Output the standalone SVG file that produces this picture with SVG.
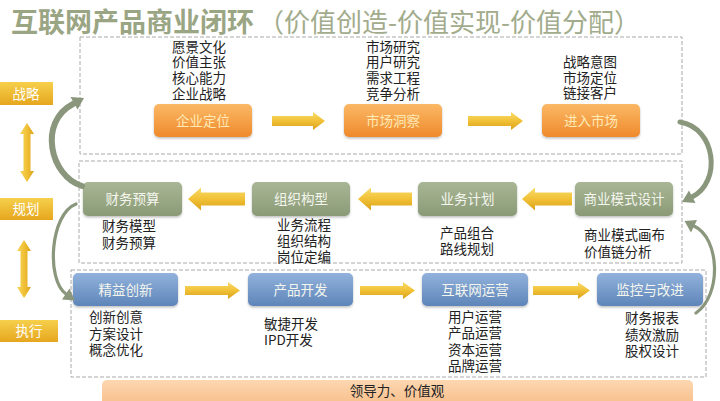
<svg xmlns="http://www.w3.org/2000/svg" width="720" height="401" viewBox="0 0 720 401">
<defs>
<linearGradient id="gOrange" x1="0" y1="0" x2="0" y2="1"><stop offset="0" stop-color="#fbb866"/><stop offset="1" stop-color="#ef8a2c"/></linearGradient>
<linearGradient id="gGreen" x1="0" y1="0" x2="0" y2="1"><stop offset="0" stop-color="#a9b695"/><stop offset="1" stop-color="#8a9a76"/></linearGradient>
<linearGradient id="gBlue" x1="0" y1="0" x2="0" y2="1"><stop offset="0" stop-color="#92b2dc"/><stop offset="1" stop-color="#5e85b9"/></linearGradient>
<linearGradient id="gGold" x1="0" y1="0" x2="0" y2="1"><stop offset="0" stop-color="#f6d04c"/><stop offset="1" stop-color="#e6a61e"/></linearGradient>
<linearGradient id="gArrow" x1="0" y1="0" x2="0" y2="1"><stop offset="0" stop-color="#f8dc6c"/><stop offset="0.5" stop-color="#f1c136"/><stop offset="1" stop-color="#d9a11a"/></linearGradient>
<linearGradient id="gArrowV" x1="0" y1="0" x2="1" y2="0"><stop offset="0" stop-color="#f5d45e"/><stop offset="0.5" stop-color="#f1c136"/><stop offset="1" stop-color="#d9a11a"/></linearGradient>
<linearGradient id="gBar" x1="0" y1="0" x2="0" y2="1"><stop offset="0" stop-color="#fcd7b2"/><stop offset="1" stop-color="#f8bd88"/></linearGradient>
<filter id="sh" x="-10%" y="-20%" width="120%" height="150%"><feDropShadow dx="0" dy="1.5" stdDeviation="1.2" flood-color="#000" flood-opacity="0.25"/></filter>
</defs>
<style>
.t{font-family:"Noto Sans CJK SC","Noto Sans",sans-serif}
.d{font-family:"Noto Sans CJK SC","Noto Sans",sans-serif;font-size:13.5px;fill:#222}
.bl{font-family:"Noto Sans CJK SC","Noto Sans",sans-serif;font-size:13.5px;text-anchor:middle}
.ob{fill:url(#gOrange);filter:url(#sh)}
.gb{fill:url(#gGreen);filter:url(#sh)}
.bb{fill:url(#gBlue);filter:url(#sh)}
.ot{fill:#fdeab6}
.wt{fill:#f4f6ee}
.lab{fill:url(#gGold)}
.labt{font-family:"Noto Sans CJK SC","Noto Sans",sans-serif;font-size:13.5px;fill:#fff;text-anchor:middle}
.dash{fill:none;stroke:#aaaaaa;stroke-width:1;stroke-dasharray:4 2}
.ya{fill:url(#gArrow)}
.yv{fill:url(#gArrowV)}
.cv{fill:none;stroke:#8a977c;stroke-linecap:round}
.ch{fill:#8a977c}
</style>
<rect width="720" height="401" fill="#ffffff"/>

<g id="title">
<text class="t" x="11" y="32" font-size="27" font-weight="bold" fill="#9aa584">互联网产品商业闭环</text>
<text class="t" x="258" y="32" font-size="26" fill="#a2ab8c">（价值创造-价值实现-价值分配）</text>
</g>

<g id="frames">
<rect class="dash" x="80" y="37" width="602" height="117"/>
<rect class="dash" x="79" y="161" width="603" height="102"/>
<rect class="dash" x="71" y="270" width="635" height="107"/>
</g>

<g id="label-strategy"><rect class="lab" x="0" y="82" width="53" height="23"/><text class="labt" x="26" y="98.5">战略</text></g>
<g id="label-plan"><rect class="lab" x="0" y="198" width="53" height="22"/><text class="labt" x="26" y="214">规划</text></g>
<g id="label-exec"><rect class="lab" x="0" y="320" width="58" height="22"/><text class="labt" x="29" y="336">执行</text></g>

<g id="node-qiye">
<text class="d" x="172" y="51.5"><tspan x="172">愿景文化</tspan><tspan x="172" dy="15.7">价值主张</tspan><tspan x="172" dy="15.7">核心能力</tspan><tspan x="172" dy="15.7">企业战略</tspan></text>
<rect class="ob" x="154" y="104" width="98" height="33" rx="5"/><text class="bl ot" x="203" y="125.5">企业定位</text>
</g>
<g id="node-shichang">
<text class="d" x="366" y="51.5"><tspan x="366">市场研究</tspan><tspan x="366" dy="15.7">用户研究</tspan><tspan x="366" dy="15.7">需求工程</tspan><tspan x="366" dy="15.7">竞争分析</tspan></text>
<rect class="ob" x="344" y="104" width="98" height="33" rx="5"/><text class="bl ot" x="393" y="125.5">市场洞察</text>
</g>
<g id="node-jinru">
<text class="d" x="563" y="67"><tspan x="563">战略意图</tspan><tspan x="563" dy="15.5">市场定位</tspan><tspan x="563" dy="15.5">链接客户</tspan></text>
<rect class="ob" x="542" y="104" width="98" height="33" rx="5"/><text class="bl ot" x="591" y="125.5">进入市场</text>
</g>

<g id="node-caiwu">
<rect class="gb" x="83" y="182" width="99" height="34" rx="5"/><text class="bl wt" x="132.5" y="204">财务预算</text>
<text class="d" x="102" y="231"><tspan x="102">财务模型</tspan><tspan x="102" dy="17">财务预算</tspan></text>
</g>
<g id="node-zuzhi">
<rect class="gb" x="252" y="182" width="98" height="34" rx="5"/><text class="bl wt" x="301" y="204">组织构型</text>
<text class="d" x="277" y="230"><tspan x="277">业务流程</tspan><tspan x="277" dy="16">组织结构</tspan><tspan x="277" dy="16">岗位定编</tspan></text>
</g>
<g id="node-yewu">
<rect class="gb" x="418" y="182" width="99" height="34" rx="5"/><text class="bl wt" x="467.5" y="204">业务计划</text>
<text class="d" x="440" y="238"><tspan x="440">产品组合</tspan><tspan x="440" dy="16">路线规划</tspan></text>
</g>
<g id="node-moshi">
<rect class="gb" x="575" y="182" width="98" height="34" rx="5"/><text class="bl wt" x="624" y="204">商业模式设计</text>
<text class="d" x="584" y="240"><tspan x="584">商业模式画布</tspan><tspan x="584" dy="17">价值链分析</tspan></text>
</g>

<g id="node-jingyi">
<rect class="bb" x="73" y="273" width="105" height="33" rx="5"/><text class="bl wt" x="125.5" y="294.5">精益创新</text>
<text class="d" x="89" y="322"><tspan x="89">创新创意</tspan><tspan x="89" dy="16.5">方案设计</tspan><tspan x="89" dy="16.5">概念优化</tspan></text>
</g>
<g id="node-kaifa">
<rect class="bb" x="248" y="273" width="105" height="33" rx="5"/><text class="bl wt" x="300.5" y="294.5">产品开发</text>
<text class="d" x="264" y="329"><tspan x="264">敏捷开发</tspan><tspan x="264" dy="16">IPD开发</tspan></text>
</g>
<g id="node-yunying">
<rect class="bb" x="422" y="273" width="106" height="33" rx="5"/><text class="bl wt" x="475" y="294.5">互联网运营</text>
<text class="d" x="448" y="322"><tspan x="448">用户运营</tspan><tspan x="448" dy="16.4">产品运营</tspan><tspan x="448" dy="16.4">资本运营</tspan><tspan x="448" dy="16.4">品牌运营</tspan></text>
</g>
<g id="node-jiankong">
<rect class="bb" x="597" y="273" width="106" height="33" rx="5"/><text class="bl wt" x="650" y="294.5">监控与改进</text>
<text class="d" x="625" y="323"><tspan x="625">财务报表</tspan><tspan x="625" dy="16.5">绩效激励</tspan><tspan x="625" dy="16.5">股权设计</tspan></text>
</g>

<g id="base-bar">
<rect x="102" y="380" width="591" height="26" rx="5" fill="url(#gBar)"/>
<text class="t" x="397" y="396" font-size="13.5" fill="#222" text-anchor="middle">领导力、价值观</text>
</g>

<g id="connectors">
<polygon class="ya" points="272,116 313,116 313,112 325,121 313,130 313,126 272,126"/>
<polygon class="ya" points="468,116 511,116 511,112 523,121 511,130 511,126 468,126"/>
<polygon class="ya" points="245,192.5 201,192.5 201,187.5 188,199 201,210.5 201,205.5 245,205.5"/>
<polygon class="ya" points="412,192.5 371,192.5 371,187.5 358,199 371,210.5 371,205.5 412,205.5"/>
<polygon class="ya" points="572,192.5 535,192.5 535,187.5 522,199 535,210.5 535,205.5 572,205.5"/>
<polygon class="ya" points="185,286 228,286 228,282 240,290.5 228,299 228,295 185,295"/>
<polygon class="ya" points="360,286 403,286 403,282 415,290.5 403,299 403,295 360,295"/>
<polygon class="ya" points="533,286 578,286 578,282 590,290.5 578,299 578,295 533,295"/>
<polygon class="yv" points="27,123 34,134 30.5,134 30.5,171 34,171 27,182 20,171 23.5,171 23.5,134 20,134"/>
<polygon class="yv" points="24,240 31,251 27.5,251 27.5,287 31,287 24,298 17,287 20.5,287 20.5,251 17,251"/>
<path class="cv" stroke-width="6" d="M82,186 C50,176 38,122 73,104"/>
<polygon class="ch" points="84,98 77.5,109.5 70.5,97"/>
<path class="cv" stroke-width="3.2" d="M76,204 C50,214 46,280 66,294"/>
<polygon class="ch" points="75,300.5 62,299.5 69.5,288.5"/>
<path class="cv" stroke-width="5" d="M680,122 C716,128 722,182 692,197"/>
<polygon class="ch" points="682,202 695.5,203 689,190.5"/>
<path class="cv" stroke-width="3.2" d="M696,313 C722,295 720,238 694,226"/>
<polygon class="ch" points="684.5,221 697,220 691,232.5"/>
</g>
</svg>
